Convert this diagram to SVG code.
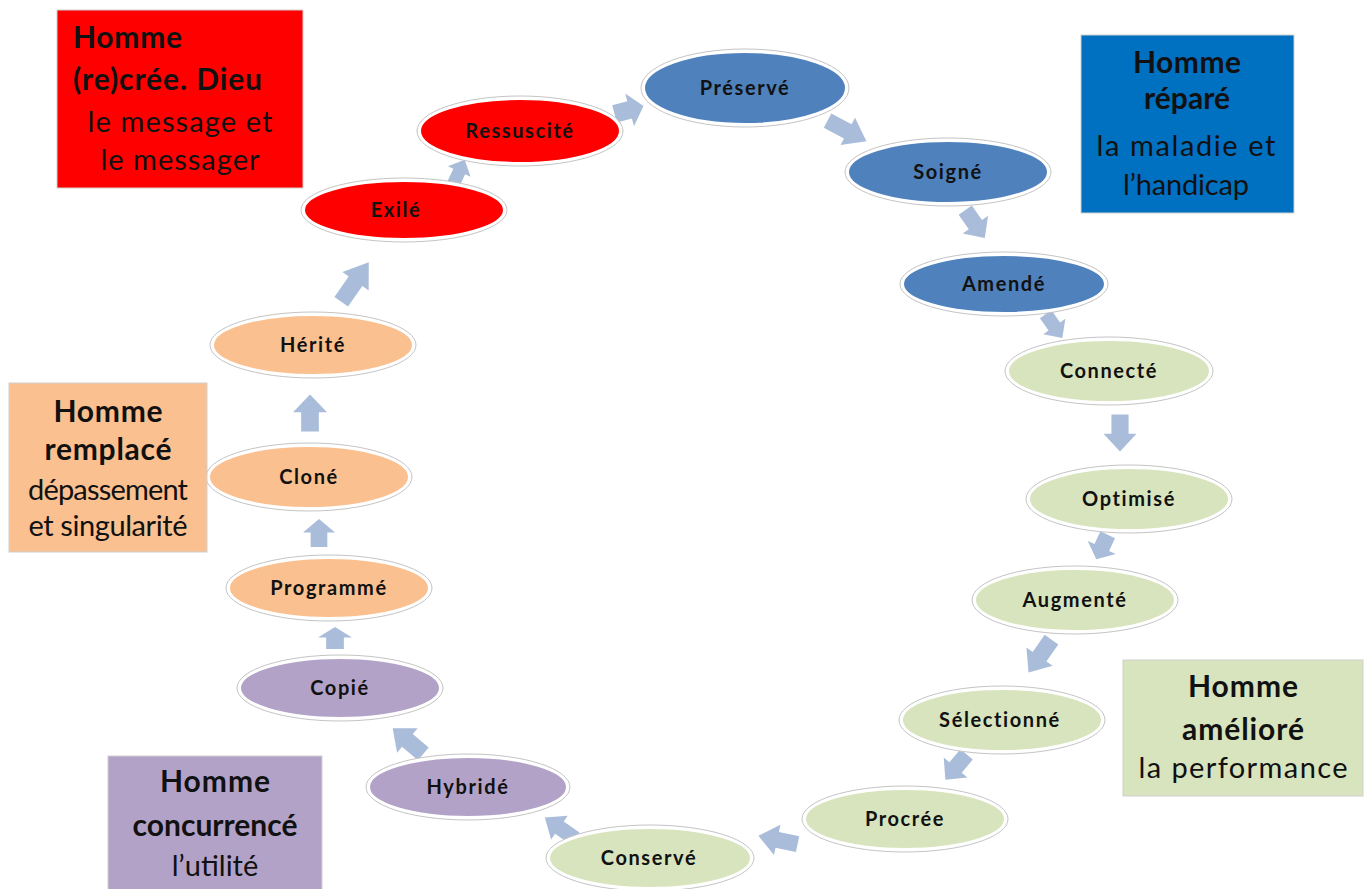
<svg xmlns="http://www.w3.org/2000/svg" xmlns:xlink="http://www.w3.org/1999/xlink" width="1370" height="889" viewBox="0 0 1370 889">
<style>
.bg{fill:#ffffff}
.ring{fill:#ffffff;stroke:#c4c4c4;stroke-width:1}
.el{stroke:#ffffff;stroke-width:2}
.red{fill:#ff0000}
.blue{fill:#4f81bd}
.orange{fill:#fac090}
.green{fill:#d7e4bd}
.purple{fill:#b3a2c7}
.lbl{font-family:Lato,"Liberation Sans",sans-serif;font-weight:bold;font-size:20px;letter-spacing:1.6px;fill:#111;text-anchor:middle}
.box{stroke:#d0d0d0;stroke-width:1}
.bt{font-family:Lato,"Liberation Sans",sans-serif;font-size:29px;fill:#111}
.b{font-weight:bold;font-size:30px}
.c{text-anchor:middle}
.arr{fill:#a9bcd9}
</style>
<defs>
<path id="arw" d="M-0.5,-0.26 H0.02 V-0.5 L0.5,0 L0.02,0.5 V0.26 H-0.5 Z"/>
</defs>
<rect class="bg" width="1370" height="889"/>

<g id="connectors" class="arr">
<use xlink:href="#arw" transform="translate(459,172) rotate(-65) scale(27,25)"/>
<use xlink:href="#arw" transform="translate(629,110) rotate(-15) scale(30,34)"/>
<use xlink:href="#arw" transform="translate(847,131) rotate(28) scale(44,31)"/>
<use xlink:href="#arw" transform="translate(975,224) rotate(55) scale(34,31)"/>
<use xlink:href="#arw" transform="translate(1054,326) rotate(55) scale(29,27)"/>
<use xlink:href="#arw" transform="translate(1120,433) rotate(90) scale(37,33)"/>
<use xlink:href="#arw" transform="translate(1102,547) rotate(115) scale(27,31)"/>
<use xlink:href="#arw" transform="translate(1040,656) rotate(125) scale(40,32)"/>
<use xlink:href="#arw" transform="translate(956,767) rotate(130) scale(33,31)"/>
<use xlink:href="#arw" transform="translate(778,840) rotate(192) scale(40,31)"/>
<use xlink:href="#arw" transform="translate(560,828) rotate(215) scale(37,29)"/>
<use xlink:href="#arw" transform="translate(408,741) rotate(220) scale(40,32)"/>
<use xlink:href="#arw" transform="translate(335,638) rotate(-90) scale(22,34)"/>
<use xlink:href="#arw" transform="translate(319,533) rotate(-90) scale(28,32)"/>
<use xlink:href="#arw" transform="translate(310,413) rotate(-90) scale(37,34)"/>
<use xlink:href="#arw" transform="translate(355,282) rotate(-55) scale(48,32)"/>
</g>

<g id="n-preserve"><ellipse class="ring" cx="745" cy="88" rx="104" ry="39"/><ellipse class="el blue" cx="745" cy="88" rx="101" ry="36"/><text class="lbl" x="745" y="95">Préservé</text></g>
<g id="n-ressuscite"><ellipse class="ring" cx="520" cy="131" rx="103" ry="35"/><ellipse class="el red" cx="520" cy="131" rx="100" ry="32"/><text class="lbl" x="520" y="138">Ressuscité</text></g>
<g id="n-exile"><ellipse class="ring" cx="404" cy="210" rx="103" ry="32"/><ellipse class="el red" cx="404" cy="210" rx="100" ry="29"/><text class="lbl" x="396" y="217">Exilé</text></g>
<g id="n-soigne"><ellipse class="ring" cx="948" cy="172" rx="103" ry="34"/><ellipse class="el blue" cx="948" cy="172" rx="100" ry="31"/><text class="lbl" x="948" y="179">Soigné</text></g>
<g id="n-amende"><ellipse class="ring" cx="1004" cy="284" rx="104" ry="32"/><ellipse class="el blue" cx="1004" cy="284" rx="101" ry="29"/><text class="lbl" x="1004" y="291">Amendé</text></g>
<g id="n-connecte"><ellipse class="ring" cx="1109" cy="371" rx="104" ry="34"/><ellipse class="el green" cx="1109" cy="371" rx="101" ry="31"/><text class="lbl" x="1109" y="378">Connecté</text></g>
<g id="n-optimise"><ellipse class="ring" cx="1129" cy="499" rx="103" ry="34"/><ellipse class="el green" cx="1129" cy="499" rx="100" ry="31"/><text class="lbl" x="1129" y="506">Optimisé</text></g>
<g id="n-augmente"><ellipse class="ring" cx="1075" cy="600" rx="103" ry="34"/><ellipse class="el green" cx="1075" cy="600" rx="100" ry="31"/><text class="lbl" x="1075" y="607">Augmenté</text></g>
<g id="n-selectionne"><ellipse class="ring" cx="1002" cy="720" rx="103" ry="34"/><ellipse class="el green" cx="1002" cy="720" rx="100" ry="31"/><text class="lbl" x="1000" y="727">Sélectionné</text></g>
<g id="n-procree"><ellipse class="ring" cx="905" cy="819" rx="103" ry="33"/><ellipse class="el green" cx="905" cy="819" rx="100" ry="30"/><text class="lbl" x="905" y="826">Procrée</text></g>
<g id="n-conserve"><ellipse class="ring" cx="650" cy="858" rx="104" ry="33"/><ellipse class="el green" cx="650" cy="858" rx="101" ry="30"/><text class="lbl" x="649" y="865">Conservé</text></g>
<g id="n-hybride"><ellipse class="ring" cx="468" cy="787" rx="102" ry="33"/><ellipse class="el purple" cx="468" cy="787" rx="99" ry="30"/><text class="lbl" x="468" y="794">Hybridé</text></g>
<g id="n-copie"><ellipse class="ring" cx="340" cy="688" rx="103" ry="33"/><ellipse class="el purple" cx="340" cy="688" rx="100" ry="30"/><text class="lbl" x="340" y="695">Copié</text></g>
<g id="n-programme"><ellipse class="ring" cx="329" cy="588" rx="103" ry="33"/><ellipse class="el orange" cx="329" cy="588" rx="100" ry="30"/><text class="lbl" x="329" y="595">Programmé</text></g>
<g id="n-clone"><ellipse class="ring" cx="309" cy="477" rx="103" ry="34"/><ellipse class="el orange" cx="309" cy="477" rx="100" ry="31"/><text class="lbl" x="309" y="484">Cloné</text></g>
<g id="n-herite"><ellipse class="ring" cx="313" cy="345" rx="103" ry="33"/><ellipse class="el orange" cx="313" cy="345" rx="100" ry="30"/><text class="lbl" x="313" y="352">Hérité</text></g>

<g id="box-recree"><rect class="box red" x="57" y="10" width="246" height="178"/>
<text class="bt b" x="73" y="48" textLength="109" lengthAdjust="spacing">Homme</text>
<text class="bt b" x="73" y="90" textLength="189" lengthAdjust="spacing">(re)crée. Dieu</text>
<text class="bt c" x="180" y="132" textLength="185" lengthAdjust="spacing">le message et</text>
<text class="bt c" x="180" y="170" textLength="159" lengthAdjust="spacing">le messager</text></g>

<g id="box-repare"><rect class="box" style="fill:#0070c0" x="1081" y="35" width="213" height="178"/>
<text class="bt b c" x="1187" y="73" textLength="108" lengthAdjust="spacing">Homme</text>
<text class="bt b c" x="1187" y="109" textLength="86" lengthAdjust="spacing">réparé</text>
<text class="bt c" x="1186" y="156" textLength="179" lengthAdjust="spacing">la maladie et</text>
<text class="bt c" x="1186" y="195" textLength="126" lengthAdjust="spacing">l’handicap</text></g>

<g id="box-remplace"><rect class="box orange" x="9" y="383" width="198" height="169"/>
<text class="bt b c" x="108" y="422" textLength="109" lengthAdjust="spacing">Homme</text>
<text class="bt b c" x="108" y="460" textLength="127" lengthAdjust="spacing">remplacé</text>
<text class="bt c" x="108" y="500" textLength="160" lengthAdjust="spacing">dépassement</text>
<text class="bt c" x="108" y="536" textLength="159" lengthAdjust="spacing">et singularité</text></g>

<g id="box-ameliore"><rect class="box green" x="1123" y="660" width="240" height="136"/>
<text class="bt b c" x="1243" y="697" textLength="110" lengthAdjust="spacing">Homme</text>
<text class="bt b c" x="1243" y="740" textLength="122" lengthAdjust="spacing">amélioré</text>
<text class="bt c" x="1243" y="778" textLength="209" lengthAdjust="spacing">la performance</text></g>

<g id="box-concurrence"><rect class="box purple" x="108" y="756" width="214" height="140"/>
<text class="bt b c" x="215" y="792" textLength="110" lengthAdjust="spacing">Homme</text>
<text class="bt b c" x="215" y="836">concurrencé</text>
<text class="bt c" x="215" y="876">l’utilité</text></g>
</svg>
